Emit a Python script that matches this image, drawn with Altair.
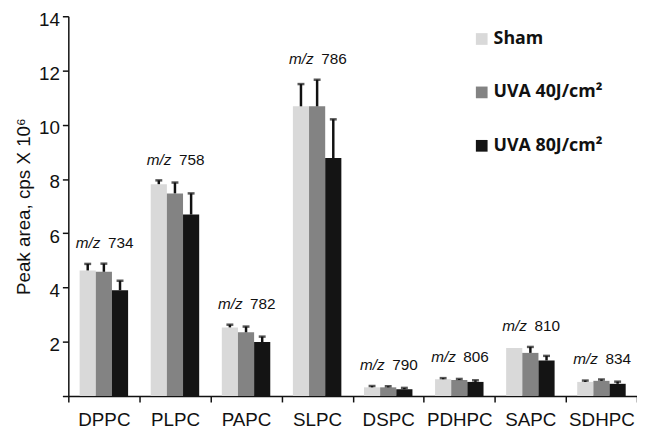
import altair as alt
import pandas as pd

categories = ["DPPC", "PLPC", "PAPC", "SLPC", "DSPC", "PDHPC", "SAPC", "SDHPC"]
mz_values = ["734", "758", "782", "786", "790", "806", "810", "834"]
groups = ["Sham", "UVA 40J/cm²", "UVA 80J/cm²"]
colors = ["#d9d9d9", "#838383", "#141414"]

sham = [4.63, 7.81, 2.53, 10.68, 0.32, 0.62, 1.77, 0.52]
sham_err = [0.24, 0.14, 0.10, 0.82, 0.05, 0.04, 0.0, 0.05]
uva40 = [4.58, 7.47, 2.35, 10.68, 0.32, 0.59, 1.59, 0.56]
uva40_err = [0.30, 0.40, 0.21, 0.98, 0.04, 0.04, 0.22, 0.05]
uva80 = [3.90, 6.69, 1.99, 8.77, 0.25, 0.52, 1.31, 0.45]
uva80_err = [0.35, 0.78, 0.20, 1.43, 0.05, 0.06, 0.17, 0.08]

rows = []
for g, vals, errs in zip(groups, [sham, uva40, uva80], [sham_err, uva40_err, uva80_err]):
    for c, v, e in zip(categories, vals, errs):
        rows.append({"cat": c, "group": g, "value": v, "err": e, "top": v + e})
df = pd.DataFrame(rows)

lab_rows = []
for i, c in enumerate(categories):
    top = max(sham[i] + sham_err[i], uva40[i] + uva40_err[i], uva80[i] + uva80_err[i])
    lab_rows.append({"cat": c, "mz": mz_values[i], "top": top})
lab = pd.DataFrame(lab_rows)

FONT = "Liberation Sans"

x_enc = alt.X(
    "cat:N",
    sort=categories,
    scale=alt.Scale(paddingInner=0, paddingOuter=0),
    axis=alt.Axis(
        title=None, labelAngle=0, labelFontSize=19, labelPadding=9,
        tickBand="extent", tickSize=6, labelFont=FONT,
    ),
)
xo_enc = alt.XOffset(
    "group:N", sort=groups, scale=alt.Scale(paddingInner=0, paddingOuter=0.7)
)
y_scale = alt.Scale(domain=[0, 14])

bars = alt.Chart(df).mark_bar().encode(
    x=x_enc,
    xOffset=xo_enc,
    y=alt.Y(
        "value:Q",
        scale=y_scale,
        axis=alt.Axis(
            title="Peak area, cps X 10⁶", values=[0, 2, 4, 6, 8, 10, 12, 14],
            labelExpr="datum.value == 0 ? '' : datum.label",
            grid=False, tickSize=6, labelFontSize=19, labelFont=FONT,
            titleFont=FONT, titleFontSize=19, titleFontWeight="normal",
            titlePadding=5, labelPadding=3, labelOffset=3,
        ),
    ),
    color=alt.Color(
        "group:N", sort=groups,
        scale=alt.Scale(domain=groups, range=colors),
        legend=alt.Legend(
            title=None, orient="none", legendX=409, legendY=14,
            symbolType="square", symbolSize=140, symbolStrokeWidth=0,
            labelFont="Open Sans", labelFontWeight="bold", labelFontSize=18,
            rowPadding=36, labelOffset=3,
        ),
    ),
)

err_base = alt.Chart(df).transform_filter("datum.err > 0")
rules = err_base.mark_rule(color="#111111", strokeWidth=2.5).encode(
    x=x_enc, xOffset=xo_enc, y=alt.Y("value:Q", scale=y_scale), y2="top:Q"
)
caps = err_base.mark_tick(color="#111111", size=7, thickness=2.5).encode(
    x=x_enc, xOffset=xo_enc, y=alt.Y("top:Q", scale=y_scale)
)

mz_text = alt.Chart(lab).mark_text(
    text="m/z", fontStyle="italic", fontSize=15.5, font=FONT, dx=-16, dy=-21,
    baseline="middle", color="#111111",
).encode(x=x_enc, y=alt.Y("top:Q", scale=y_scale))
num_text = alt.Chart(lab).mark_text(
    fontSize=15.5, font=FONT, dx=17, dy=-21, baseline="middle", color="#111111",
).encode(x=x_enc, y=alt.Y("top:Q", scale=y_scale), text="mz:N")

chart = alt.layer(bars, rules, caps, mz_text, num_text).properties(
    width=575, height=384,
    autosize=alt.AutoSizeParams(type="none"),
    padding={"left": 61, "top": 6, "right": 0, "bottom": 31},
).configure_view(stroke=None).configure_axis(
    domainColor="#111111", tickColor="#111111", labelColor="#111111",
    titleColor="#111111", domainWidth=1.5, tickWidth=1.5,
).configure_legend(labelColor="#111111")

chart.save("out.html", embed_options={"renderer": "svg", "actions": False})
